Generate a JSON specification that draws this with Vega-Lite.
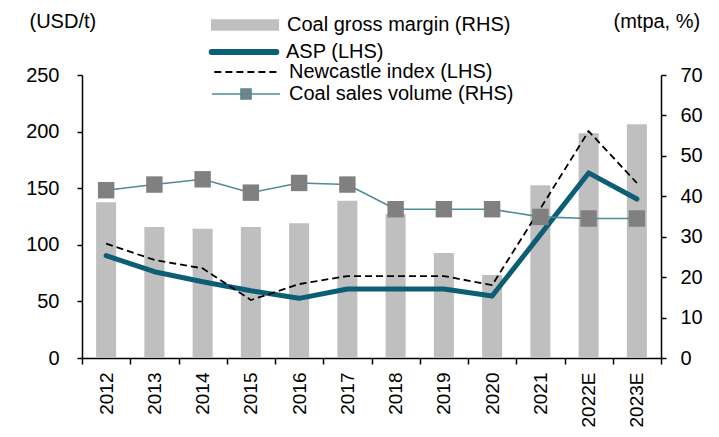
{
  "$schema": "https://vega.github.io/schema/vega-lite/v6.json",
  "width": 579,
  "height": 283,
  "autosize": {"type": "none"},
  "padding": {"left": 82, "top": 75, "right": 58, "bottom": 79},
  "background": "white",
  "config": {
    "view": {"stroke": null},
    "font": "Liberation Sans",
    "axis": {"domainColor": "black", "tickColor": "black", "labelColor": "black", "titleColor": "black", "grid": false, "domainWidth": 1.5, "tickWidth": 1.5, "labelFont": "Liberation Sans", "titleFont": "Liberation Sans"},
    "legend": {"labelFont": "Liberation Sans", "labelFontSize": 20, "labelColor": "black", "padding": 0, "labelOffset": 8, "labelLimit": 500}
  },
  "data": {
    "values": [
      {"year": "2012", "margin": 38.5, "asp": 90.4, "newcastle": 101, "volume": 41.5},
      {"year": "2013", "margin": 32.4, "asp": 76.2, "newcastle": 86.6, "volume": 42.9},
      {"year": "2014", "margin": 32.0, "asp": 67.4, "newcastle": 79.2, "volume": 44.2},
      {"year": "2015", "margin": 32.4, "asp": 59.4, "newcastle": 51.2, "volume": 40.9},
      {"year": "2016", "margin": 33.3, "asp": 52.7, "newcastle": 65.3, "volume": 43.3},
      {"year": "2017", "margin": 38.9, "asp": 60.9, "newcastle": 72.4, "volume": 42.9},
      {"year": "2018", "margin": 35.6, "asp": 61.0, "newcastle": 72.4, "volume": 36.8},
      {"year": "2019", "margin": 26.0, "asp": 61.0, "newcastle": 72.4, "volume": 36.8},
      {"year": "2020", "margin": 20.5, "asp": 54.7, "newcastle": 64.4, "volume": 36.8},
      {"year": "2021", "margin": 42.7, "asp": 109, "newcastle": 132, "volume": 34.9},
      {"year": "2022E", "margin": 55.6, "asp": 163.5, "newcastle": 200.4, "volume": 34.5},
      {"year": "2023E", "margin": 57.8, "asp": 140.4, "newcastle": 154.6, "volume": 34.5}
    ]
  },
  "encoding": {
    "x": {
      "field": "year", "type": "ordinal", "sort": null,
      "scale": {"type": "band", "paddingInner": 0, "paddingOuter": 0},
      "axis": {"title": null, "labelAngle": -90, "labelAlign": "right", "labelBaseline": "middle", "labelFontSize": 19, "tickSize": 6, "labelPadding": 8, "tickBand": "extent"}
    }
  },
  "layer": [
    {
      "mark": {"type": "bar", "width": {"band": 0.415}},
      "encoding": {
        "y": {"field": "margin", "type": "quantitative", "scale": {"domain": [0, 70], "nice": false},
          "axis": {"orient": "right", "values": [0, 10, 20, 30, 40, 50, 60, 70], "labelFontSize": 20, "tickSize": 5, "labelPadding": 14,
            "title": "(mtpa, %)", "titleAngle": 0, "titleFontSize": 20, "titleFontWeight": "normal", "titleX": -48, "titleY": -54, "titleAlign": "left", "titleBaseline": "middle"}},
        "color": {"datum": "Coal gross margin (RHS)", "scale": {"range": ["#bfbfbf"]},
          "legend": {"title": null, "orient": "none", "legendX": 129, "legendY": -84, "symbolType": "M-1,-0.17H1V0.17H-1Z", "symbolSize": 4624, "symbolStrokeWidth": 0, "symbolFillColor": "#bfbfbf"}}
      }
    },
    {
      "mark": {"type": "line", "strokeWidth": 5, "strokeJoin": "round", "strokeCap": "round"},
      "encoding": {
        "y": {"field": "asp", "type": "quantitative", "scale": {"domain": [0, 250], "nice": false},
          "axis": {"orient": "left", "values": [0, 50, 100, 150, 200, 250], "labelFontSize": 20, "tickSize": 5, "labelPadding": 18,
            "title": "(USD/t)", "titleAngle": 0, "titleFontSize": 20, "titleFontWeight": "normal", "titleX": -53, "titleY": -54, "titleAlign": "left", "titleBaseline": "middle"}},
        "color": {"datum": "ASP (LHS)", "scale": {"range": ["#0b5e74"]},
          "legend": {"title": null, "orient": "none", "legendX": 125, "legendY": -60, "labelOffset": 5, "symbolType": "M-0.95,0H0.95", "symbolSize": 4624, "symbolStrokeWidth": 6, "symbolStrokeColor": "#0b5e74",
            "encode": {"symbols": {"update": {"strokeCap": {"value": "round"}}}}}}
      }
    },
    {
      "mark": {"type": "line", "strokeWidth": 1.8, "strokeDash": [7, 4], "color": "black"},
      "encoding": {
        "y": {"field": "newcastle", "type": "quantitative", "scale": {"domain": [0, 250], "nice": false}, "axis": null},
        "color": {"datum": "Newcastle index (LHS)", "scale": {"range": ["black"]},
          "legend": {"title": null, "orient": "none", "legendX": 129, "legendY": -38, "symbolType": "M-0.93,0H0.93", "symbolSize": 4624, "symbolStrokeWidth": 1.8, "symbolDash": [7, 4], "symbolStrokeColor": "black"}}
      }
    },
    {
      "mark": {"type": "line", "strokeWidth": 1.6},
      "encoding": {
        "y": {"field": "volume", "type": "quantitative", "scale": {"domain": [0, 70], "nice": false}, "axis": null},
        "color": {"datum": "Coal sales volume (RHS)", "scale": {"range": ["#4e8a9a"]},
          "legend": {"title": null, "orient": "none", "legendX": 129, "legendY": -16, "symbolType": "M-1,0H1M-0.147,-0.147H0.147V0.147H-0.147Z", "symbolSize": 4624, "symbolStrokeWidth": 1.6, "symbolStrokeColor": "#4e8a9a", "symbolFillColor": "#808080"}}
      }
    },
    {
      "mark": {"type": "point", "shape": "square", "filled": true, "size": 270, "color": "#808080", "opacity": 1},
      "encoding": {
        "y": {"field": "volume", "type": "quantitative", "scale": {"domain": [0, 70], "nice": false}, "axis": null}
      }
    }
  ],
  "resolve": {"scale": {"y": "independent", "color": "independent"}}
}
